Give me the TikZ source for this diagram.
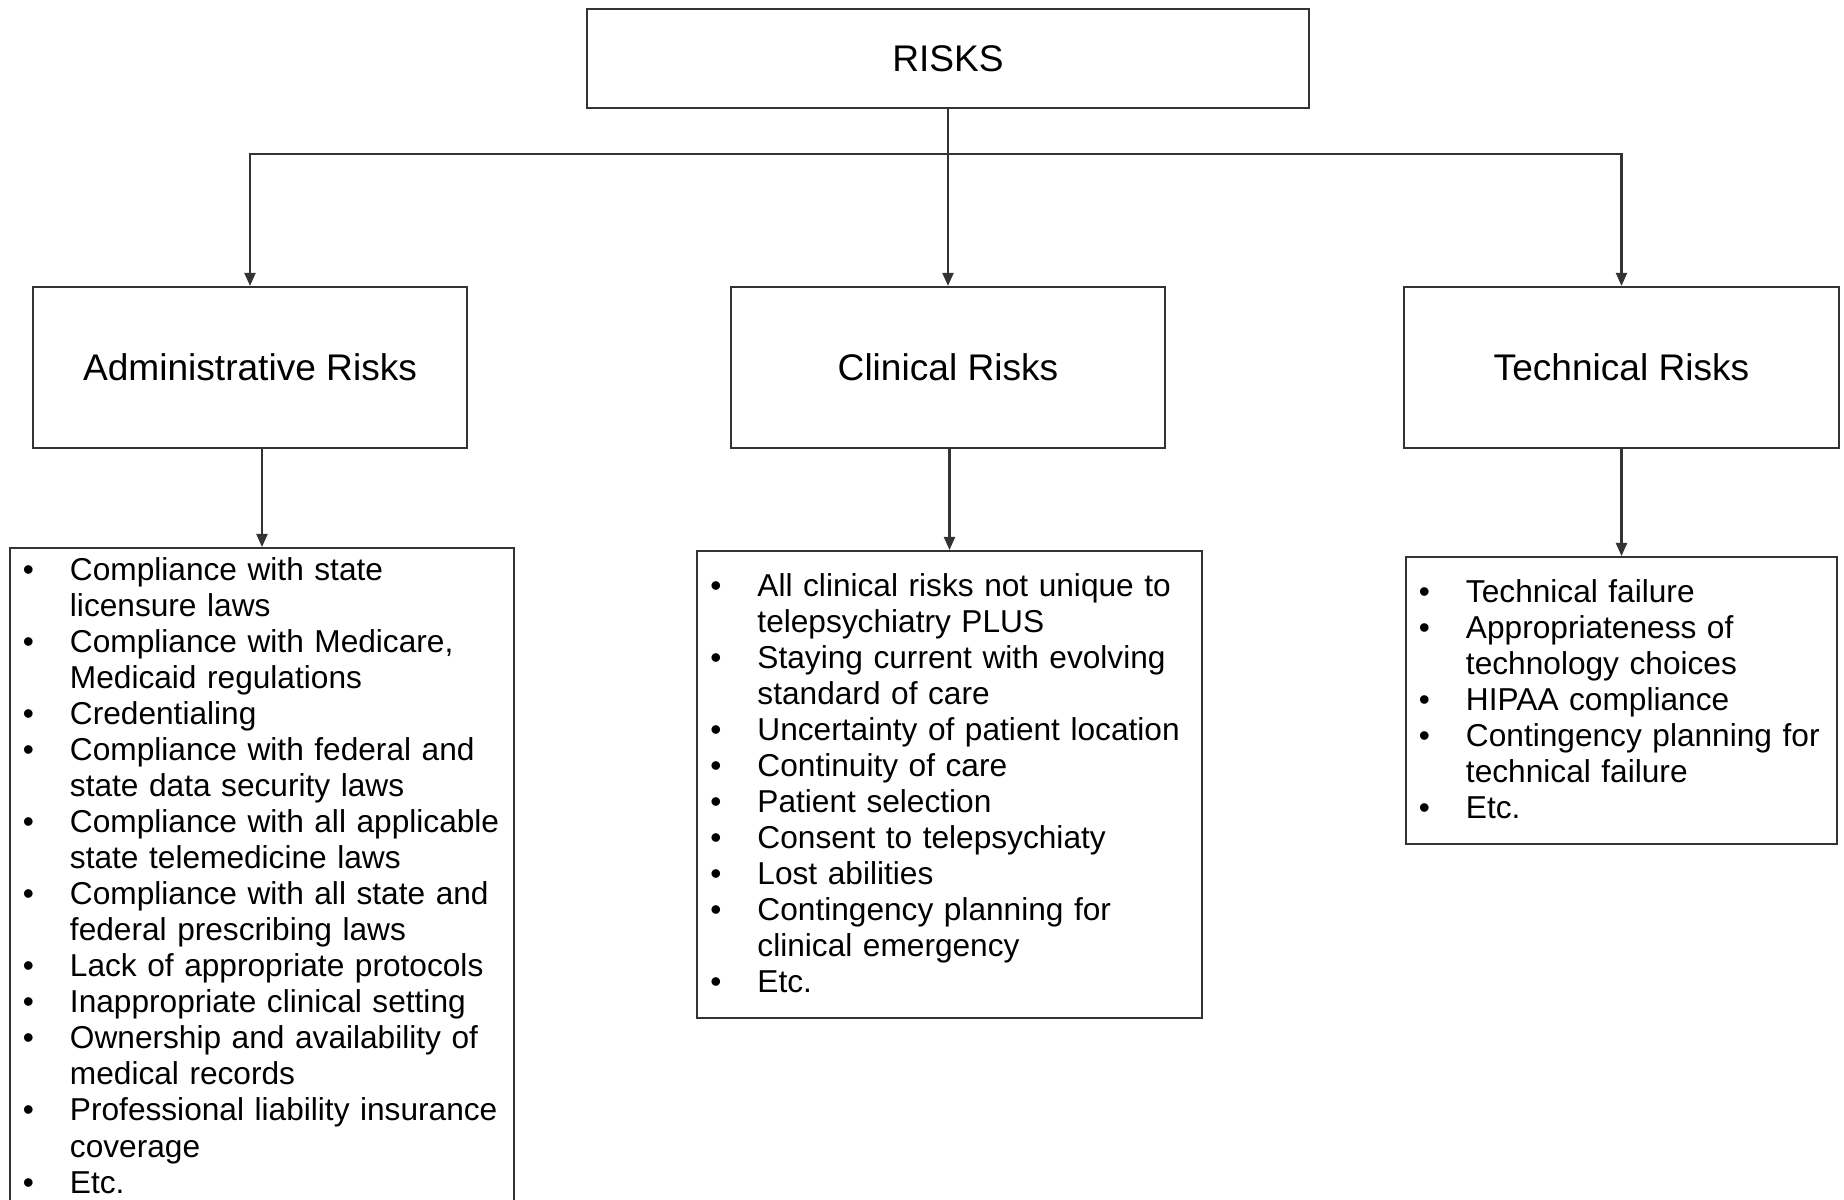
\documentclass[tikz,border=0pt]{standalone}
\usepackage{fontspec}
\setmainfont{Liberation Sans}
\usetikzlibrary{arrows.meta}

\newcommand{\headfont}{\fontsize{10.55}{12}\selectfont}
\newcommand{\listfont}{\fontsize{9.0}{10.25}\selectfont}
\newcommand{\bl}{\textbullet}
\newcommand{\topgap}{\rule{0pt}{0.30cm}}

\begin{document}
\begin{tikzpicture}[x=0.01cm, y=-0.01cm,
    head node/.style={rectangle, draw=black!80, line width=0.6pt, font=\headfont, minimum width=4.34cm, minimum height=1.61cm},
    list node/.style={rectangle, draw=black!80, line width=0.6pt, font=\listfont, align=left, anchor=north, inner xsep=0.13cm, inner ysep=0.15cm},
    arr/.style={draw=black!80, line width=0.6pt, -{Triangle[length=0.13cm, width=0.11cm]}}]

    \useasboundingbox (0,0) rectangle (1844,1200);

    \node[head node, minimum width=7.21cm, minimum height=0.99cm] at (948, 58.5) (risks) {RISKS};
    \node[head node] at (250, 367.5) (admin) {Administrative Risks};
    \node[head node] at (948, 367.5) (clin) {Clinical Risks};
    \node[head node] at (1621.5, 367.5) (tech) {Technical Risks};

    \node[list node, text width=4.78cm, inner ysep=0.07cm] at (262, 547) (alist) {%
        \begin{tabular}{@{}l@{\hspace{0.36cm}}l@{}}
        \bl & Compliance with state\\
            & licensure laws\\
        \bl & Compliance with Medicare,\\
            & Medicaid regulations\\
        \bl & Credentialing\\
        \bl & Compliance with federal and\\
            & state data security laws\\
        \bl & Compliance with all applicable\\
            & state telemedicine laws\\
        \bl & Compliance with all state and\\
            & federal prescribing laws\\
        \bl & Lack of appropriate protocols\\
        \bl & Inappropriate clinical setting\\
        \bl & Ownership and availability of\\
            & medical records\\
        \bl & Professional liability insurance\\
            & coverage\\
        \bl & Etc.
        \end{tabular}};

    \node[list node, text width=4.78cm] at (949.5, 550) (clist) {%
        \begin{tabular}{@{}l@{\hspace{0.36cm}}l@{}}
        \topgap\bl & All clinical risks not unique to\\
            & telepsychiatry PLUS\\
        \bl & Staying current with evolving\\
            & standard of care\\
        \bl & Uncertainty of patient location\\
        \bl & Continuity of care\\
        \bl & Patient selection\\
        \bl & Consent to telepsychiaty\\
        \bl & Lost abilities\\
        \bl & Contingency planning for\\
            & clinical emergency\\
        \bl & Etc.
        \end{tabular}};

    \node[list node, text width=4.05cm] at (1621.5, 556) (tlist) {%
        \begin{tabular}{@{}l@{\hspace{0.36cm}}l@{}}
        \topgap\bl & Technical failure\\
        \bl & Appropriateness of\\
            & technology choices\\
        \bl & HIPAA compliance\\
        \bl & Contingency planning for\\
            & technical failure\\
        \bl & Etc.
        \end{tabular}};

    \draw[arr] (risks.south) -- (clin.north);
    \draw[arr] (risks.south) -- ++(0,45) -| (admin.north);
    \draw[arr] (risks.south) -- ++(0,45) -| (tech.north);
    \draw[arr] (admin.south -| alist.north) -- (alist.north);
    \draw[arr] (clin.south -| clist.north) -- (clist.north);
    \draw[arr] (tech.south -| tlist.north) -- (tlist.north);
\end{tikzpicture}
\end{document}
